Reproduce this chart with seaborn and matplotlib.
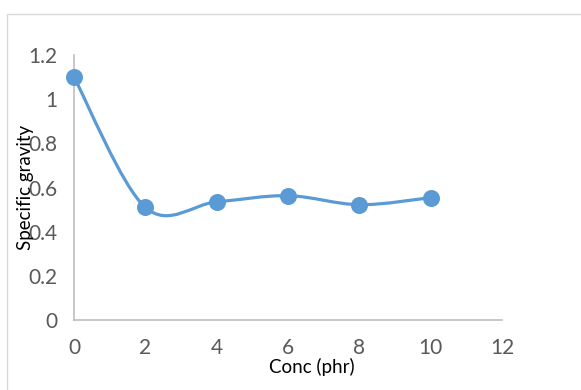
import matplotlib
matplotlib.use("Agg")
import matplotlib.pyplot as plt
from matplotlib.path import Path
from matplotlib.patches import PathPatch, Rectangle
import numpy as np
import pandas as pd
import seaborn as sns

# Data
conc_phr = [0, 2, 4, 6, 8, 10]
specific_gravity = [1.10, 0.51, 0.535, 0.563, 0.522, 0.554]
x_ticks = [0, 2, 4, 6, 8, 10, 12]
y_ticks = [0, 0.2, 0.4, 0.6, 0.8, 1.0, 1.2]
y_tick_labels = ["0", "0.2", "0.4", "0.6", "0.8", "1", "1.2"]

sns.set_theme(style="white")
plt.rcParams["font.family"] = ["Lato", "DejaVu Sans"]

LINE_BLUE = "#5B9BD5"
TICK_GREY = "#595959"
AXIS_GREY = "#BFBFBF"

df = pd.DataFrame({"conc": conc_phr, "sg": specific_gravity})

fig = plt.figure(figsize=(5.81, 3.90), dpi=100)
ax = fig.add_axes([74 / 581, 1 - 320 / 390, (502 - 74) / 581, (320 - 55) / 390])

# Smoothed connecting line: cubic Bezier segments through every point
pts = df[["conc", "sg"]].to_numpy(dtype=float)
n = len(pts)
verts = [tuple(pts[0])]
codes = [Path.MOVETO]
for i in range(n - 1):
    p_prev = pts[i - 1] if i > 0 else pts[i]
    p0 = pts[i]
    p1 = pts[i + 1]
    p_next = pts[i + 2] if i + 2 < n else pts[i + 1]
    c1 = p0 + (p1 - p_prev) / 6.0
    c2 = p1 - (p_next - p0) / 6.0
    verts += [tuple(c1), tuple(c2), tuple(p1)]
    codes += [Path.CURVE4, Path.CURVE4, Path.CURVE4]
curve = PathPatch(Path(verts, codes), facecolor="none", edgecolor=LINE_BLUE,
                  linewidth=2.3, capstyle="round", joinstyle="round", zorder=3)
ax.add_patch(curve)

sns.scatterplot(data=df, x="conc", y="sg", ax=ax, color=LINE_BLUE, s=150,
                edgecolor=LINE_BLUE, linewidth=0, zorder=4, clip_on=False)

ax.set_xlim(0, 12)
ax.set_ylim(0, 1.2)
ax.set_xticks(x_ticks)
ax.set_xticklabels([str(t) for t in x_ticks])
ax.set_yticks(y_ticks)
ax.set_yticklabels(y_tick_labels)
ax.tick_params(axis="both", length=0, labelsize=15, labelcolor=TICK_GREY)
ax.tick_params(axis="x", pad=13)
ax.tick_params(axis="y", pad=12)

for side in ("top", "right"):
    ax.spines[side].set_visible(False)
for side in ("left", "bottom"):
    ax.spines[side].set_color(AXIS_GREY)
    ax.spines[side].set_linewidth(1.2)

ax.set_xlabel("Conc (phr)", fontsize=13.5, color="black")
ax.set_ylabel("Specific gravity", fontsize=13.5, color="black")
ax.xaxis.set_label_coords((312 - 74) / (502 - 74), -(367 - 320) / (320 - 55))
ax.yaxis.set_label_coords(-(74 - 25) / (502 - 74), 0.5)
ax.xaxis.label.set_va("center")
ax.yaxis.label.set_va("center")

# Chart-area border
fig.patches.append(Rectangle((7 / 581, -0.1), 1.2, 1 - 14 / 390 + 0.1,
                             transform=fig.transFigure, fill=False,
                             edgecolor="#D9D9D9", linewidth=1.0, zorder=0))

fig.savefig("out.png", dpi=100)
